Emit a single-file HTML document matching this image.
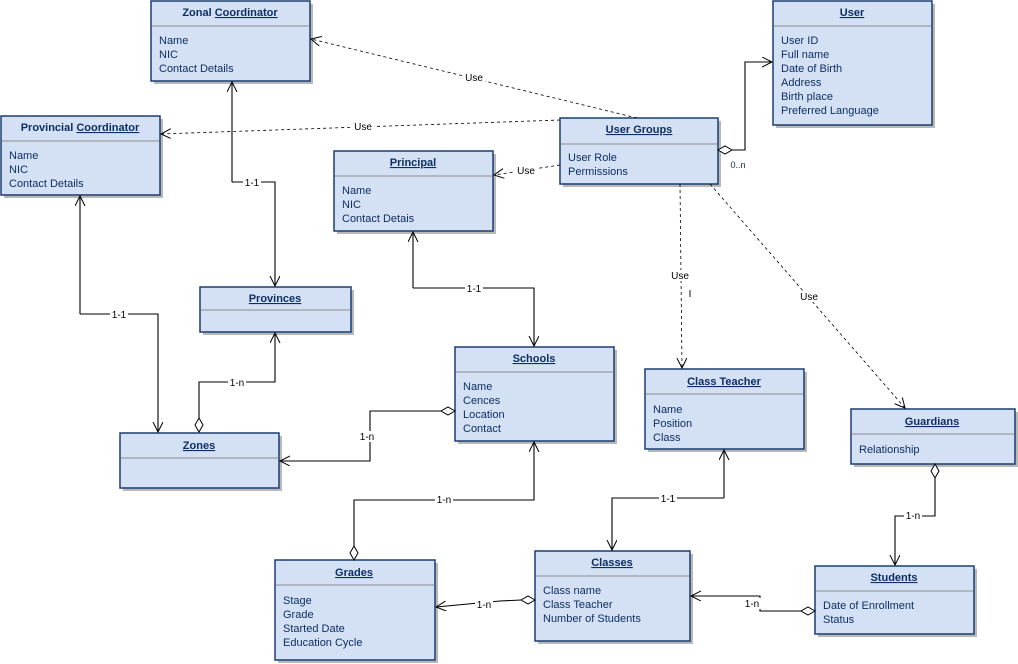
<!DOCTYPE html>
<html><head><meta charset="utf-8"><style>
html,body{margin:0;padding:0;background:#fff;}
svg{display:block;font-family:"Liberation Sans",sans-serif;}
.t{font-size:11px;font-weight:bold;fill:#0e2f63;}
.a{font-size:11px;fill:#0e2f63;}
.l{font-size:10px;fill:#000;}
</style></head><body>
<svg width="1018" height="664" viewBox="0 0 1018 664" xmlns="http://www.w3.org/2000/svg">
<defs>
<marker id="ar" markerWidth="12" markerHeight="12" refX="10" refY="5" orient="auto" markerUnits="userSpaceOnUse"><path d="M0,0 L10,5 L0,10" fill="none" stroke="#000" stroke-width="1"/></marker>
</defs>
<g fill="#d4e1f4" stroke="#1b3d70" stroke-width="1.5">
<rect x="154" y="4" width="159" height="80" fill="#b8b8b8" stroke="none"/><rect x="151" y="1" width="159" height="80"/>
<rect x="776" y="4" width="159" height="124" fill="#b8b8b8" stroke="none"/><rect x="773" y="1" width="159" height="124"/>
<rect x="4" y="119" width="159" height="79" fill="#b8b8b8" stroke="none"/><rect x="1" y="116" width="159" height="79"/>
<rect x="563" y="121" width="158" height="66" fill="#b8b8b8" stroke="none"/><rect x="560" y="118" width="158" height="66"/>
<rect x="337" y="154" width="159" height="80" fill="#b8b8b8" stroke="none"/><rect x="334" y="151" width="159" height="80"/>
<rect x="203" y="290" width="151" height="45" fill="#b8b8b8" stroke="none"/><rect x="200" y="287" width="151" height="45"/>
<rect x="458" y="350" width="159" height="94" fill="#b8b8b8" stroke="none"/><rect x="455" y="347" width="159" height="94"/>
<rect x="648" y="372" width="159" height="80" fill="#b8b8b8" stroke="none"/><rect x="645" y="369" width="159" height="80"/>
<rect x="854" y="412" width="164" height="55" fill="#b8b8b8" stroke="none"/><rect x="851" y="409" width="164" height="55"/>
<rect x="123" y="436" width="159" height="55" fill="#b8b8b8" stroke="none"/><rect x="120" y="433" width="159" height="55"/>
<rect x="278" y="563" width="160" height="100" fill="#b8b8b8" stroke="none"/><rect x="275" y="560" width="160" height="100"/>
<rect x="538" y="554" width="155" height="90" fill="#b8b8b8" stroke="none"/><rect x="535" y="551" width="155" height="90"/>
<rect x="818" y="569" width="159" height="68" fill="#b8b8b8" stroke="none"/><rect x="815" y="566" width="159" height="68"/>
</g>
<g stroke="#8a8a8a" stroke-width="1">
<line x1="152" y1="26" x2="309" y2="26"/><line x1="774" y1="26" x2="931" y2="26"/>
<line x1="2" y1="141" x2="159" y2="141"/><line x1="561" y1="144" x2="717" y2="144"/>
<line x1="335" y1="176" x2="492" y2="176"/><line x1="201" y1="310" x2="350" y2="310"/>
<line x1="456" y1="372" x2="613" y2="372"/><line x1="646" y1="394" x2="803" y2="394"/>
<line x1="852" y1="434" x2="1014" y2="434"/><line x1="121" y1="458" x2="278" y2="458"/>
<line x1="276" y1="585" x2="434" y2="585"/><line x1="536" y1="576" x2="689" y2="576"/>
<line x1="816" y1="591" x2="973" y2="591"/>
</g>
<g class="t" text-anchor="middle">
<text x="230" y="16">Zonal <tspan text-decoration="underline">Coordinator</tspan></text>
<text x="852" y="16" text-decoration="underline">User</text>
<text x="80" y="131">Provincial <tspan text-decoration="underline">Coordinator</tspan></text>
<text x="639" y="133" text-decoration="underline">User Groups</text>
<text x="413" y="166" text-decoration="underline">Principal</text>
<text x="275" y="302" text-decoration="underline">Provinces</text>
<text x="534" y="362" text-decoration="underline">Schools</text>
<text x="724" y="385" text-decoration="underline">Class Teacher</text>
<text x="932" y="425" text-decoration="underline">Guardians</text>
<text x="199" y="449" text-decoration="underline">Zones</text>
<text x="354" y="576" text-decoration="underline">Grades</text>
<text x="612" y="566" text-decoration="underline">Classes</text>
<text x="894" y="581" text-decoration="underline">Students</text>
</g>
<g class="a">
<text x="159" y="44">Name</text><text x="159" y="58">NIC</text><text x="159" y="72">Contact Details</text>
<text x="781" y="44">User ID</text><text x="781" y="58">Full name</text><text x="781" y="72">Date of Birth</text><text x="781" y="86">Address</text><text x="781" y="100">Birth place</text><text x="781" y="114">Preferred Language</text>
<text x="9" y="159">Name</text><text x="9" y="173">NIC</text><text x="9" y="187">Contact Details</text>
<text x="568" y="161">User Role</text><text x="568" y="175">Permissions</text>
<text x="342" y="194">Name</text><text x="342" y="208">NIC</text><text x="342" y="222">Contact Detais</text>
<text x="463" y="390">Name</text><text x="463" y="404">Cences</text><text x="463" y="418">Location</text><text x="463" y="432">Contact</text>
<text x="653" y="413">Name</text><text x="653" y="427">Position</text><text x="653" y="441">Class</text>
<text x="859" y="453">Relationship</text>
<text x="283" y="604">Stage</text><text x="283" y="618">Grade</text><text x="283" y="632">Started Date</text><text x="283" y="646">Education Cycle</text>
<text x="543" y="594">Class name</text><text x="543" y="608">Class Teacher</text><text x="543" y="622">Number of Students</text>
<text x="823" y="609">Date of Enrollment</text><text x="823" y="623">Status</text>
</g>
<g fill="none" stroke="#000" stroke-width="0.8" stroke-dasharray="3,3">
<path d="M637,118 L311,39" marker-end="url(#ar)"/>
<path d="M560,120 L161,134" marker-end="url(#ar)"/>
<path d="M560,165 L494,175" marker-end="url(#ar)"/>
<path d="M680,184 L682,368" marker-end="url(#ar)"/>
<path d="M710,184 L905,408" marker-end="url(#ar)"/>
</g>
<g fill="none" stroke="#000" stroke-width="1.1">
<path d="M732,150 L745,150 L745,62 L772,62" marker-end="url(#ar)"/>
<path d="M232,182 L232,82" marker-end="url(#ar)"/><path d="M232,182 L275,182 L275,286" marker-end="url(#ar)"/>
<path d="M80,314 L80,196" marker-end="url(#ar)"/><path d="M80,314 L158,314 L158,432" marker-end="url(#ar)"/>
<path d="M413,288 L413,232" marker-end="url(#ar)"/><path d="M413,288 L534,288 L534,346" marker-end="url(#ar)"/>
<path d="M199,418 L199,382 L275,382 L275,333" marker-end="url(#ar)"/>
<path d="M441,411 L370,411 L370,461 L280,461" marker-end="url(#ar)"/>
<path d="M354,546 L354,500 L534,500 L534,442" marker-end="url(#ar)"/>
<path d="M724,498 L724,450" marker-end="url(#ar)"/><path d="M724,498 L612,498 L612,550" marker-end="url(#ar)"/>
<path d="M521,600 L500,601 L436,607" marker-end="url(#ar)"/>
<path d="M801,611 L760,611 L760,596 L691,596" marker-end="url(#ar)"/>
<path d="M935,478 L935,516 L895,516 L895,565" marker-end="url(#ar)"/>
</g>
<g fill="#fff" stroke="#000" stroke-width="1">
<polygon points="718,150 725,146 732,150 725,154"/>
<polygon points="199,432 195,425 199,418 203,425"/>
<polygon points="455,411 448,407 441,411 448,415"/>
<polygon points="354,560 350,553 354,546 358,553"/>
<polygon points="535,600 528,596 521,600 528,604"/>
<polygon points="815,611 808,607 801,611 808,615"/>
<polygon points="935,464 931,471 935,478 939,471"/>
</g>
<g class="l" text-anchor="middle">
<rect x="463" y="72" width="22" height="11" fill="#fff"/><text x="474" y="81">Use</text>
<rect x="352" y="120" width="22" height="11" fill="#fff"/><text x="363" y="130">Use</text>
<rect x="515" y="164" width="22" height="11" fill="#fff"/><text x="526" y="174">Use</text>
<rect x="669" y="270" width="22" height="11" fill="#fff"/><text x="680" y="279">Use</text>
<text x="690" y="297">I</text>
<rect x="798" y="291" width="22" height="11" fill="#fff"/><text x="809" y="300">Use</text>
<text x="738" y="168" style="fill:#0e2f63;font-size:9px">0..n</text>
<rect x="243" y="177" width="18" height="11" fill="#fff"/><text x="252" y="186">1-1</text>
<rect x="110" y="309" width="18" height="11" fill="#fff"/><text x="119" y="318">1-1</text>
<rect x="465" y="283" width="18" height="11" fill="#fff"/><text x="474" y="292">1-1</text>
<rect x="228" y="377" width="18" height="11" fill="#fff"/><text x="237" y="386">1-n</text>
<rect x="358" y="431" width="18" height="11" fill="#fff"/><text x="367" y="440">1-n</text>
<rect x="435" y="495" width="18" height="11" fill="#fff"/><text x="444" y="503">1-n</text>
<rect x="659" y="493" width="18" height="11" fill="#fff"/><text x="668" y="502">1-1</text>
<rect x="475" y="599" width="18" height="11" fill="#fff"/><text x="484" y="608">1-n</text>
<rect x="743" y="598" width="18" height="11" fill="#fff"/><text x="752" y="607">1-n</text>
<rect x="904" y="510" width="18" height="11" fill="#fff"/><text x="913" y="519">1-n</text>
</g>
</svg>
</body></html>
